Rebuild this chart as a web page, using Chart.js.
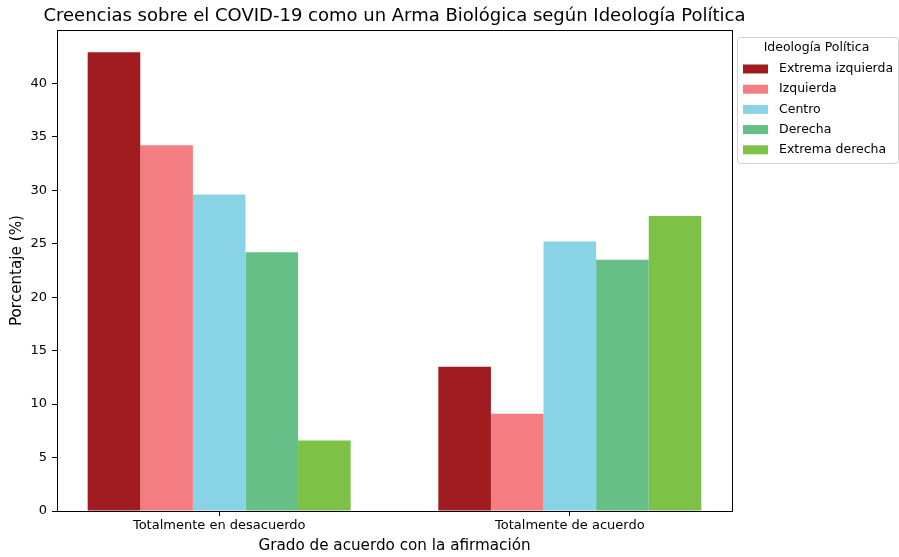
<!DOCTYPE html>
<html>
<head>
<meta charset="utf-8">
<script src="https://cdn.jsdelivr.net/npm/chart.js@4.4.0/dist/chart.umd.min.js"></script>
<style>
  html, body { margin: 0; padding: 0; background: #fff; }
  #wrap { width: 899px; height: 557px; }
</style>
</head>
<body>
<div id="wrap"><canvas id="myChart" width="899" height="557"></canvas></div>
<script>
const categories = ['Totalmente en desacuerdo', 'Totalmente de acuerdo'];
const ideologias = ['Extrema izquierda', 'Izquierda', 'Centro', 'Derecha', 'Extrema derecha'];
const extremaIzquierda = [42.9, 13.5];
const izquierda = [34.2, 9.1];
const centro = [29.6, 25.2];
const derecha = [24.2, 23.5];
const extremaDerecha = [6.6, 27.6];
const yTicks = [0, 5, 10, 15, 20, 25, 30, 35, 40];
const colores = ['#a11c20', '#f47d81', '#88d3e6', '#65bf87', '#7dc247'];

const series = [extremaIzquierda, izquierda, centro, derecha, extremaDerecha];
const font = 'DejaVu Sans';

function toPoints(arr) {
  return arr.map(function (v, i) { return { x: i, y: v }; });
}

// marco del área, título y leyenda al estilo matplotlib
const extras = {
  id: 'extras',
  afterDraw(chart) {
    const c = chart.ctx;
    const a = chart.chartArea;
    c.save();
    c.strokeStyle = '#000';
    c.lineWidth = 1;
    c.strokeRect(Math.round(a.left) + 0.5, Math.round(a.top) + 0.5,
      Math.round(a.right - a.left), Math.round(a.bottom - a.top));

    c.fillStyle = '#000';
    c.font = '18px "' + font + '"';
    c.textAlign = 'center';
    c.textBaseline = 'middle';
    c.fillText('Creencias sobre el COVID-19 como un Arma Biológica según Ideología Política',
      (a.left + a.right) / 2, 16);

    // leyenda
    const lx = 737, ly = 37, lw = 161, lh = 126;
    c.beginPath();
    c.roundRect(lx + 0.5, ly + 0.5, lw, lh, 3);
    c.fillStyle = 'rgba(255,255,255,0.8)';
    c.fill();
    c.strokeStyle = '#d0d0d0';
    c.stroke();
    c.fillStyle = '#000';
    c.font = '12.5px "' + font + '"';
    c.textAlign = 'center';
    c.fillText('Ideología Política', lx + lw / 2 - 1, 48);
    c.textAlign = 'left';
    chart.data.datasets.forEach(function (ds, i) {
      const yc = 69 + i * 20.2;
      c.fillStyle = ds.backgroundColor;
      c.fillRect(743, yc - 4.5, 25, 9);
      c.fillStyle = '#000';
      c.fillText(ds.label, 779, yc);
    });
    c.restore();
  }
};

new Chart(document.getElementById('myChart'), {
  type: 'bar',
  data: {
    datasets: ideologias.map(function (name, i) {
      return {
        label: name,
        data: toPoints(series[i]),
        backgroundColor: colores[i],
        borderWidth: 0,
        categoryPercentage: 0.75,
        barPercentage: 1
      };
    })
  },
  options: {
    responsive: false,
    animation: false,
    layout: { padding: { top: 30, right: 167, left: 0, bottom: 0 } },
    plugins: {
      legend: { display: false },
      title: { display: false },
      tooltip: { enabled: false }
    },
    scales: {
      x: {
        type: 'linear',
        offset: false,
        min: -0.4625,
        max: 1.4625,
        afterBuildTicks: function (scale) {
          scale.ticks = categories.map(function (c, i) { return { value: i }; });
        },
        afterFit: function (scale) { scale.height = 46; },
        ticks: {
          color: '#000',
          padding: 2,
          font: { family: font, size: 13 },
          callback: function (v) { return categories[v]; }
        },
        grid: { display: true, offset: false, drawOnChartArea: false, drawTicks: true, tickLength: 5, color: '#000' },
        border: { display: true, color: '#000' },
        title: {
          display: true,
          text: 'Grado de acuerdo con la afirmación',
          color: '#000',
          font: { family: font, size: 15.2 },
          padding: { top: 0, bottom: 2 }
        }
      },
      y: {
        min: 0,
        max: 44.99,
        afterBuildTicks: function (scale) {
          scale.ticks = yTicks.map(function (v) { return { value: v }; });
        },
        afterFit: function (scale) { scale.width = 57; },
        ticks: {
          color: '#000',
          padding: 5,
          font: { family: font, size: 13 }
        },
        grid: { display: true, drawOnChartArea: false, drawTicks: true, tickLength: 5, color: '#000' },
        border: { display: true, color: '#000' },
        title: {
          display: true,
          text: 'Porcentaje (%)',
          color: '#000',
          font: { family: font, size: 15.2 },
          padding: { top: 8, bottom: 0 }
        }
      }
    }
  },
  plugins: [extras]
});
</script>
</body>
</html>
